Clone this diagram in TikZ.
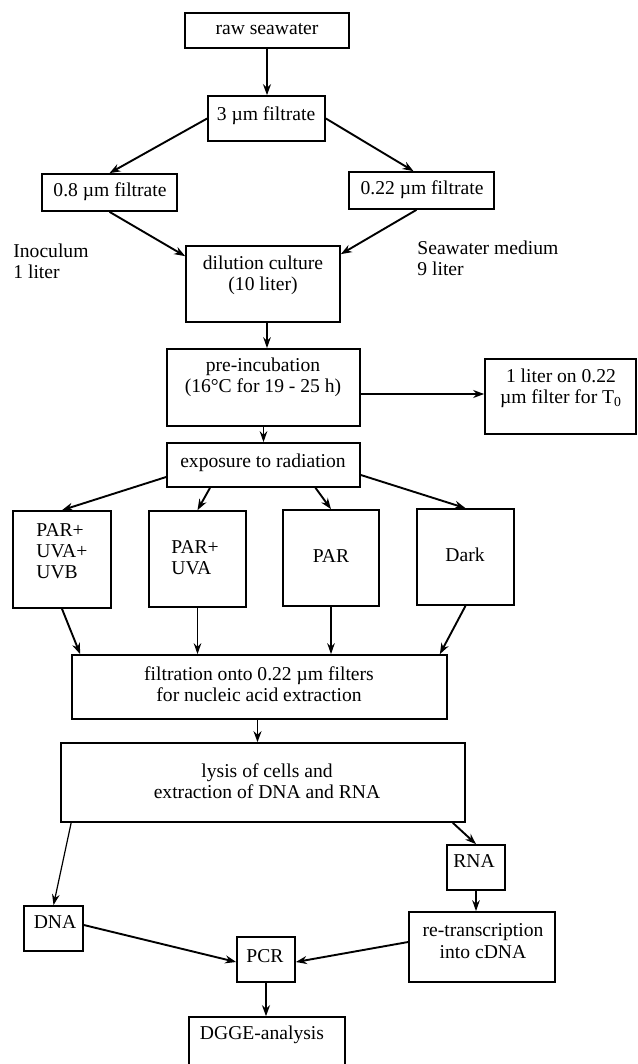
\documentclass[tikz,border=0pt]{standalone}
\usepackage{fontspec}
\setmainfont{Liberation Serif}
\usetikzlibrary{arrows.meta,fit}
\tikzset{
  bx/.style={draw, line width=0.85pt, inner sep=0pt},
  txt/.style={inner sep=0pt, align=center, font=\fontsize{9.8}{10.6}\selectfont},
  ltxt/.style={inner sep=0pt, align=left, font=\fontsize{9.8}{10.6}\selectfont},
  arr/.style={line width=0.95pt, -{Stealth[length=5.5pt,width=4pt,inset=1.8pt]}},
  tarr/.style={line width=0.6pt, -{Stealth[length=5.5pt,width=3.8pt,inset=1.8pt]}}
}
\begin{document}
\begin{tikzpicture}[x=0.5pt,y=-0.5pt]
\useasboundingbox (0,0) rectangle (637,1064);
\clip (0,0) rectangle (637,1064);
% boxes
\node[bx, fit={(185,13) (349,48)}] (raw) {};
\node[txt] (rawT) at (267,29) {raw seawater};
\node[bx, fit={(208,96) (325,141)}] (f3) {};
\node[txt] (f3T) at (266,116) {3 µm filtrate};
\node[bx, fit={(42,174) (177,211)}] (f08) {};
\node[txt] (f08T) at (110,192) {0.8 µm filtrate};
\node[bx, fit={(349,172) (494,209)}] (f022) {};
\node[txt] (f022T) at (422,190) {0.22 µm filtrate};
\node[ltxt, anchor=west] (inoc) at (13,261) {Inoculum\\1 liter};
\node[ltxt, anchor=west] (swm) at (417,258) {Seawater medium\\9 liter};
\node[bx, fit={(186,246) (340,322)}] (dil) {};
\node[txt] (dilT) at (263,275) {dilution culture\\(10 liter)};
\node[bx, fit={(167,349) (360,426)}] (pre) {};
\node[txt] (preT) at (263,377) {pre-incubation\\(16°C for 19 - 25 h)};
\node[bx, fit={(485,359) (636,434)}] (t0) {};
\node[txt] (t0T) at (561,388) {1 liter on 0.22\\µm filter for T\textsubscript{0}};
\node[bx, fit={(167,443) (360,487)}] (exp) {};
\node[txt] (expT) at (263,463) {exposure to radiation};
\node[bx, fit={(13,511) (111,608)}] (b1) {};
\node[ltxt, anchor=west] (b1T) at (36,551) {PAR+\\UVA+\\UVB};
\node[bx, fit={(149,511) (246,607)}] (b2) {};
\node[ltxt, anchor=west] (b2T) at (171,558) {PAR+\\UVA};
\node[bx, fit={(283,510) (379,606)}] (b3) {};
\node[txt] (b3T) at (331,556) {PAR};
\node[bx, fit={(417,509) (514,605)}] (b4) {};
\node[txt] (b4T) at (465,555) {Dark};
\node[bx, fit={(72,655) (447,719)}] (filt) {};
\node[txt] (filtT) at (259,684) {filtration onto 0.22 µm filters\\for nucleic acid extraction};
\node[bx, fit={(61,743) (465,822)}] (lys) {};
\node[txt] (lysT) at (267,781) {lysis of cells and\\extraction of DNA and RNA};
\node[bx, fit={(24,906) (83,951)}] (dna) {};
\node[txt] (dnaT) at (55,922) {DNA};
\node[bx, fit={(447,845) (505,890)}] (rna) {};
\node[txt] (rnaT) at (474,861) {RNA};
\node[bx, fit={(409,912) (555,982)}] (rt) {};
\node[txt] (rtT) at (483,941) {re-transcription\\into cDNA};
\node[bx, fit={(237,937) (295,982)}] (pcr) {};
\node[txt] (pcrT) at (265,956) {PCR};
\node[bx, fit={(189,1017) (345,1090)}] (dgge) {};
\node[txt] (dggeT) at (262,1035) {DGGE-analysis};
% connectors
\draw[arr] (raw.south) -- (raw.south |- f3.north);
\draw[arr] (f3.west) -- (f08.north);
\draw[arr] (f3.east) -- ([xshift=-4pt]f022.north);
\draw[arr] (f08.south) -- ([yshift=-5.5pt]dil.north west);
\draw[arr] ([xshift=-2.5pt]f022.south) -- ([yshift=-4.5pt]dil.north east);
\draw[tarr] ([xshift=2pt]dil.south) -- ([xshift=2pt]dil.south |- pre.north);
\draw[arr] (pre.east |- 0,394) -- (t0.west |- 0,394);
\draw[tarr] (pre.south) -- (pre.south |- exp.north);
\draw[arr] ([yshift=-6pt]exp.west) -- (b1.north);
\draw[arr] ([xshift=-26.75pt]exp.south) -- (b2.north);
\draw[arr] ([xshift=26pt]exp.south) -- (b3.north);
\draw[arr] ([yshift=-5pt]exp.east) -- (b4.north);
\draw[arr] (b1.south) -- ([xshift=4.5pt]filt.north west);
\draw[tarr] (b2.south) -- (b2.south |- filt.north);
\draw[tarr] (b3.south) -- (b3.south |- filt.north);
\draw[arr] (b4.south) -- ([xshift=-4pt]filt.north east);
\draw[arr] ([xshift=-1pt]filt.south) -- ([xshift=-1pt]filt.south |- lys.north);
\draw[tarr] ([xshift=5.5pt]lys.south west) -- (dna.north);
\draw[arr] ([xshift=-6.5pt]lys.south east) -- (rna.north);
\draw[tarr] (rna.south) -- (rna.south |- rt.north);
\draw[arr] ([yshift=1.75pt]dna.east) -- ([yshift=-1.25pt]pcr.west);
\draw[arr] ([yshift=2.5pt]rt.west) -- ([yshift=-1.25pt]pcr.east);
\draw[arr] (pcr.south) -- (pcr.south |- dgge.north);
\end{tikzpicture}
\end{document}
